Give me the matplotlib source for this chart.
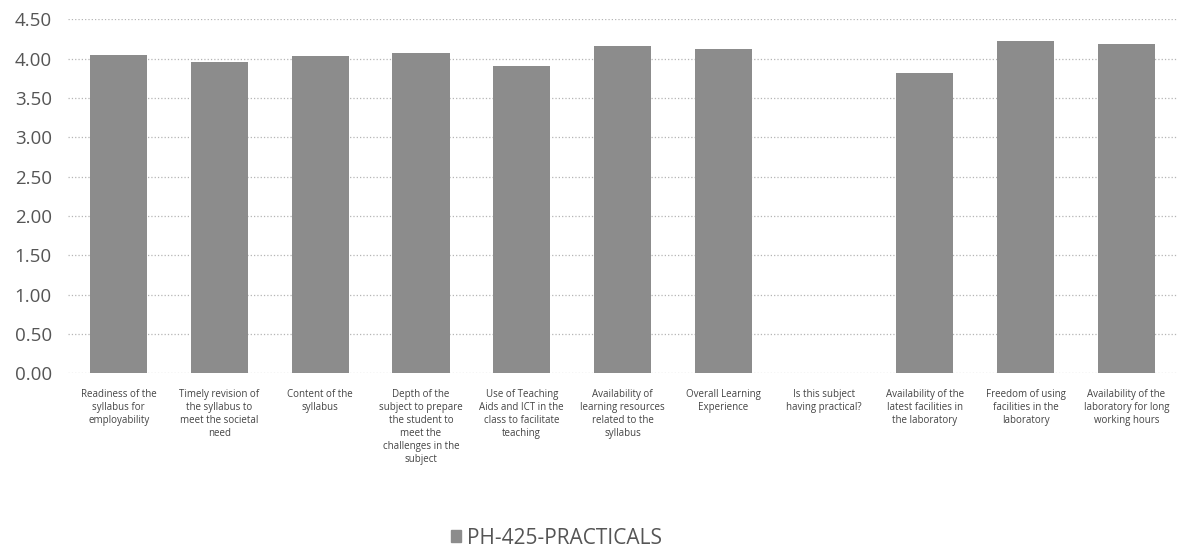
import matplotlib.pyplot as plt
from matplotlib.patches import Patch

# Survey questions (x categories) and mean scores
categories = [
    "Readiness of the\nsyllabus for\nemployability",
    "Timely revision of\nthe syllabus to\nmeet the societal\nneed",
    "Content of the\nsyllabus",
    "Depth of the\nsubject to prepare\nthe student to\nmeet the\nchallenges in the\nsubject",
    "Use of Teaching\nAids and ICT in the\nclass to facilitate\nteaching",
    "Availability of\nlearning resources\nrelated to the\nsyllabus",
    "Overall Learning\nExperience",
    "Is this subject\nhaving practical?",
    "Availability of the\nlatest facilities in\nthe laboratory",
    "Freedom of using\nfacilities in the\nlaboratory",
    "Availability of the\nlaboratory for long\nworking hours",
]
scores = [4.04, 3.95, 4.03, 4.07, 3.91, 4.16, 4.12, 0.0, 3.82, 4.22, 4.19]
series_name = "PH-425-PRACTICALS"
yticks = [0.0, 0.5, 1.0, 1.5, 2.0, 2.5, 3.0, 3.5, 4.0, 4.5]

plt.rcParams['font.family'] = ['Open Sans', 'DejaVu Sans']

fig = plt.figure(figsize=(11.79, 5.49), dpi=100)
ax = fig.add_axes([0.058, 0.32, 0.94, 0.645])

bar_color = '#8c8c8c'
x = range(len(categories))
ax.bar(x, scores, width=0.57, color=bar_color, zorder=3)

ax.set_ylim(0, 4.5)
ax.set_xlim(-0.5, len(categories) - 0.5)
ax.set_yticks(yticks)
ax.set_yticklabels([f"{v:.2f}" for v in yticks], fontsize=13.5, color='#555555')
ax.set_xticks(list(x))
ax.set_xticklabels(categories, fontsize=7, color='#444444', linespacing=1.25)
ax.tick_params(axis='both', length=0)
ax.tick_params(axis='x', pad=11)
ax.tick_params(axis='y', pad=12)

ax.grid(axis='y', color='#b5b5b5', linestyle=':', linewidth=0.9, zorder=0)
for s in ax.spines.values():
    s.set_visible(False)

fig.legend(handles=[Patch(color=bar_color, label=series_name)],
           loc='center', bbox_to_anchor=(0.472, 0.02), frameon=False,
           fontsize=15, handlelength=0.45, handleheight=0.45,
           handletextpad=0.3, labelcolor='#555555')

fig.savefig("out.png", dpi=100)
